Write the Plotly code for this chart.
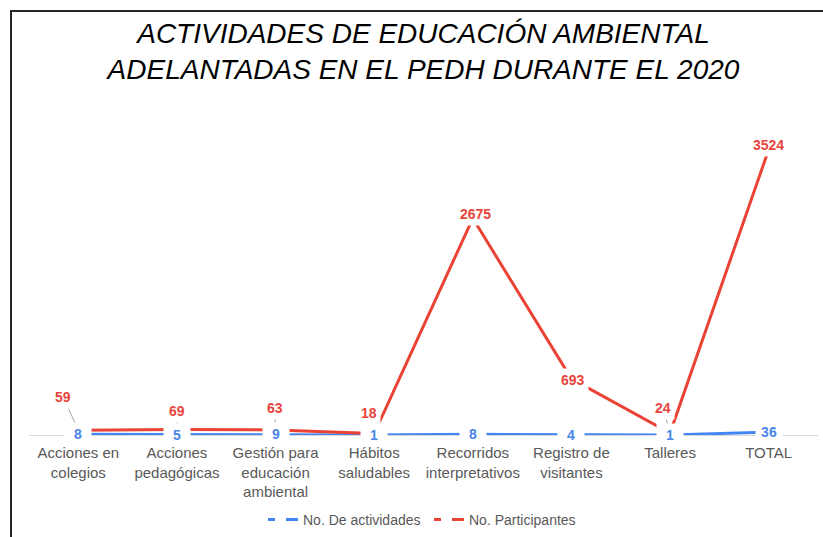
import plotly.graph_objects as go

# Categories and series
categorias = [
    "Acciones en<br>colegios",
    "Acciones<br>pedagógicas",
    "Gestión para<br>educación<br>ambiental",
    "Hábitos<br>saludables",
    "Recorridos<br>interpretativos",
    "Registro de<br>visitantes",
    "Talleres",
    "TOTAL",
]
no_actividades = [8, 5, 9, 1, 8, 4, 1, 36]
no_participantes = [59, 69, 63, 18, 2675, 693, 24, 3524]

# Label placement for the participants series: pixel offset from the point
# and whether a leader line is drawn back to the point.
offsets_participantes = [
    (-15, -33, True),
    (0, -18, True),
    (-1, -22, True),
    (-5, -21, False),
    (3, -4, False),
    (2, 1, False),
    (-7, -25, True),
    (0, -5, False),
]

AZUL = "#4285F4"
AZUL_TXT = "#4A86E8"
ROJO = "#EA4335"
ROJO_TXT = "#E8453C"
GRIS = "#595959"
FONT = "Liberation Sans, Arial, sans-serif"

M_L, M_R, M_T, M_B = 29, 5, 111, 102
PLOT_W = 823 - M_L - M_R
PLOT_H = 537 - M_T - M_B
BASE_Y = 537 - M_B

fig = go.Figure()

fig.add_trace(go.Scatter(
    x=categorias, y=no_actividades, mode="lines",
    line=dict(color=AZUL, width=3), cliponaxis=False,
    showlegend=False, hoverinfo="skip",
))
fig.add_trace(go.Scatter(
    x=categorias, y=no_participantes, mode="lines",
    line=dict(color=ROJO, width=3), cliponaxis=False,
    showlegend=False, hoverinfo="skip",
))

# Legend entries (broken line sample)
for nombre, color in [("No. De actividades", AZUL), ("No. Participantes", ROJO)]:
    fig.add_trace(go.Scatter(
        x=[None], y=[None], mode="lines", name=nombre,
        line=dict(color=color, width=3, dash="7px,11px,14px,100px"),
    ))

annotations = []

# Participants labels (above the line, some with leader lines)
for cat, val, (dx, dy, leader) in zip(categorias, no_participantes, offsets_participantes):
    base = dict(
        x=cat, y=val, xref="x", yref="y", text=str(val),
        font=dict(family=FONT, size=14, color=ROJO_TXT, weight="bold"),
        bgcolor="white", borderpad=3,
    )
    if leader:
        base.update(showarrow=True, ax=dx, ay=dy, arrowhead=0, arrowwidth=1,
                    arrowcolor="#A6A6A6", standoff=2)
    else:
        base.update(showarrow=False, xshift=dx, yshift=-dy)
    annotations.append(base)

# Activities labels (centred on the line)
for cat, val in zip(categorias, no_actividades):
    annotations.append(dict(
        x=cat, y=val, xref="x", yref="y", text=str(val), showarrow=False,
        font=dict(family=FONT, size=14, color=AZUL_TXT, weight="bold"),
        bgcolor="white", borderpad=3, width=20,
    ))

fig.update_layout(
    width=823, height=537,
    margin=dict(l=M_L, r=M_R, t=M_T, b=M_B, autoexpand=False),
    paper_bgcolor="white", plot_bgcolor="white",
    font=dict(family=FONT, color=GRIS),
    title=dict(
        text="ACTIVIDADES DE EDUCACIÓN AMBIENTAL<br>ADELANTADAS EN EL PEDH DURANTE EL 2020",
        font=dict(family=FONT, size=28, color="#000000", style="italic"),
        x=0.5, xref="paper", xanchor="center",
        y=1 - 43 / 537, yref="container", yanchor="middle",
    ),
    xaxis=dict(
        type="category", range=[-0.5, 7.5], showgrid=False, zeroline=False,
        showline=True, linecolor="#D9D9D9", linewidth=1,
        ticks="outside", ticklen=4, tickcolor="rgba(0,0,0,0)",
        tickfont=dict(family=FONT, size=15, color=GRIS),
        automargin=False,
    ),
    yaxis=dict(range=[0, 4000], visible=False, showgrid=False, zeroline=False),
    legend=dict(
        orientation="h", xanchor="left", yanchor="middle",
        x=(263 - M_L) / PLOT_W, y=(BASE_Y - 520) / PLOT_H,
        font=dict(family=FONT, size=14, color=GRIS),
        bgcolor="rgba(0,0,0,0)", entrywidth=121,
    ),
    annotations=annotations,
    shapes=[dict(
        type="rect", xref="paper", yref="paper",
        x0=(11 - M_L) / PLOT_W, x1=(840 - M_L) / PLOT_W,
        y0=(BASE_Y - 560) / PLOT_H, y1=(BASE_Y - 11) / PLOT_H,
        line=dict(color="#262626", width=2), fillcolor="rgba(0,0,0,0)",
        layer="below",
    )],
    hovermode=False,
)

fig.write_html("out.html")
